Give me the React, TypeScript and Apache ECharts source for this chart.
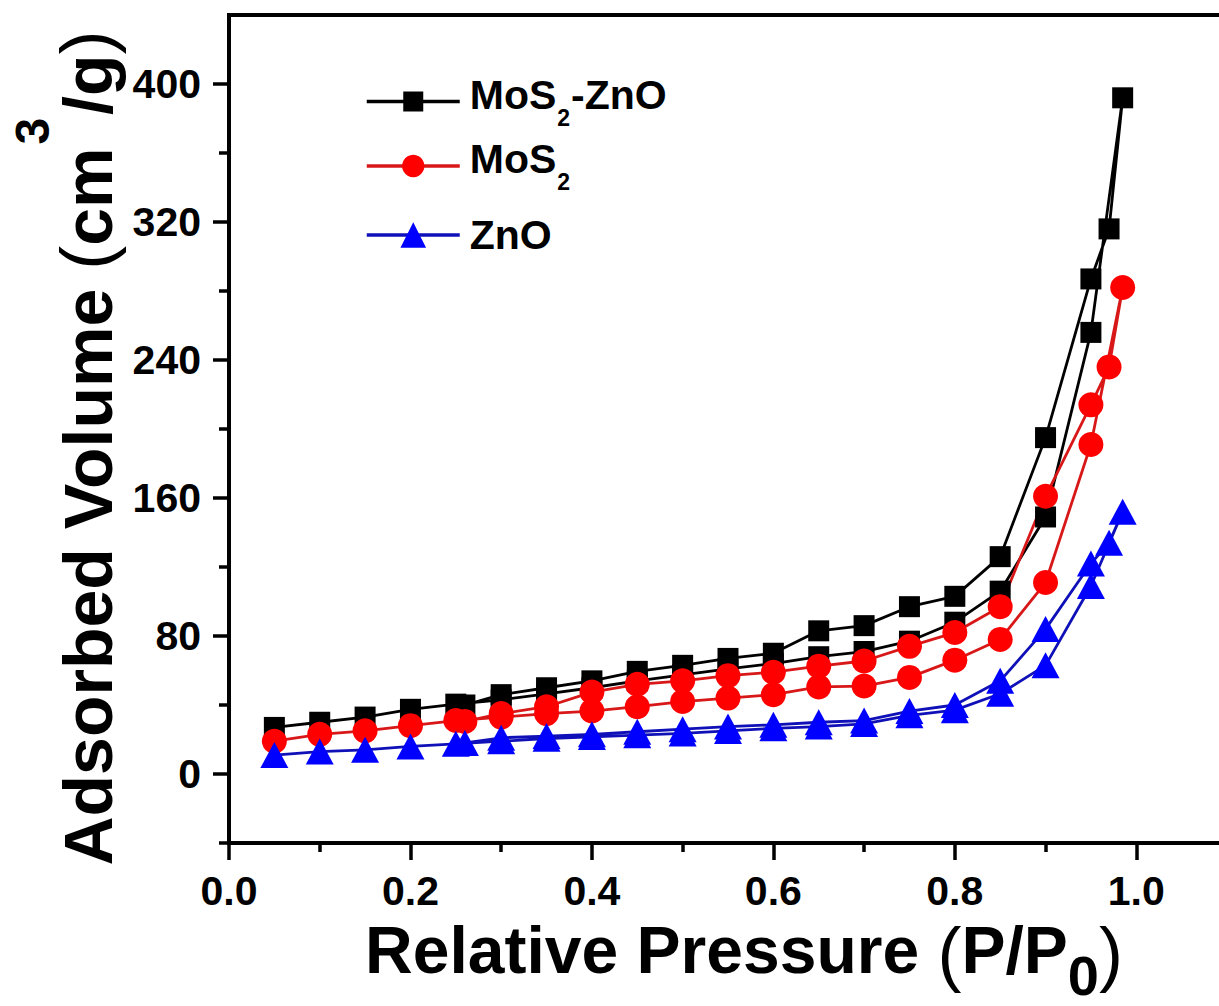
import React, { useEffect, useRef } from "react";
import * as echarts from "echarts";

// Relative pressure points (adsorption branch, then desorption branch)
const pressureAds = [0.05, 0.1, 0.15, 0.2, 0.25, 0.3, 0.35, 0.4, 0.45, 0.5, 0.55, 0.6, 0.65, 0.7, 0.75, 0.8, 0.85, 0.9, 0.95, 0.985];
const pressureDes = [0.97, 0.95, 0.9, 0.85, 0.8, 0.75, 0.7, 0.65, 0.6, 0.55, 0.5, 0.45, 0.4, 0.35, 0.3, 0.26];

// MoS2-ZnO
const mosZnoAds = [27, 30, 33, 37.5, 40.5, 43, 46.5, 50, 54, 57.5, 61, 64, 68, 71, 77, 88, 106, 149, 256, 392];
const mosZnoDes = [316, 287, 195, 126, 103, 97, 86, 83, 70, 67, 63, 59.5, 54, 50, 46, 40];
// MoS2
const mosAds = [19, 23, 25, 28, 31, 33, 35, 36.5, 39, 42, 44, 46, 50.5, 51, 56, 66, 78, 111, 191, 282];
const mosDes = [236, 214, 161, 97, 82, 74, 65.5, 62.5, 59, 57, 54, 52, 47.5, 39, 35, 30.5];
// ZnO
const znoAds = [11, 13, 14, 16, 17.5, 19, 20.5, 21.5, 22.5, 23.5, 25, 26.5, 27.5, 29, 34, 37, 46.5, 63, 109, 152];
const znoDes = [134, 122, 84, 54, 40, 36.5, 31, 30, 28.5, 27.5, 26, 24.5, 23, 22, 21, 18];

const seriesNames = ["MoS2-ZnO", "MoS2", "ZnO"];

const xMajorTicks = [0, 0.2, 0.4, 0.6, 0.8, 1.0];
const xMinorTicks = [0.1, 0.3, 0.5, 0.7, 0.9];
const yMajorTicks = [0, 80, 160, 240, 320, 400];
const yMinorTicks = [-40, 40, 120, 200, 280, 360];

const FONT = "'Liberation Sans', Arial, Helvetica, sans-serif";

export default function App() {
  const ref = useRef<HTMLDivElement>(null);

  useEffect(() => {
    const chart = echarts.init(ref.current as HTMLDivElement, null, { renderer: "svg" });

    const pairs = (xs: number[], ys: number[]) => xs.map((x, i) => [x, ys[i]]);

    const mkSeries = (
      name: string,
      ads: number[],
      des: number[],
      symbol: string,
      size: number | number[],
      color: string,
      lineColor: string
    ) => ({
      name,
      type: "line",
      xAxisIndex: 0,
      yAxisIndex: 0,
      data: [...pairs(pressureAds, ads), ...pairs(pressureDes, des)],
      symbol,
      symbolSize: size,
      showSymbol: true,
      showAllSymbol: true,
      itemStyle: { color, borderWidth: 0 },
      lineStyle: { color: lineColor, width: 2.8 },
      emphasis: { disabled: true },
    });

    const legendRich = {
      b: {
        fontSize: 41,
        fontWeight: "bold",
        fontFamily: FONT,
        color: "#000",
        lineHeight: 41,
        padding: [0, 0, 14, 0],
      },
      b0: {
        fontSize: 41,
        fontWeight: "bold",
        fontFamily: FONT,
        color: "#000",
        lineHeight: 41,
        padding: [0, 0, 14, 5],
      },
      s: {
        fontSize: 23,
        fontWeight: "bold",
        fontFamily: FONT,
        color: "#000",
        lineHeight: 23,
        padding: [32, 1, 0, 1],
      },
      z: {
        fontSize: 41,
        fontWeight: "bold",
        fontFamily: FONT,
        color: "#000",
        lineHeight: 41,
        padding: [0, 0, 0, 5],
      },
    };

    const legendFormatter = (name: string) => {
      if (name === "MoS2-ZnO") return "{b0|MoS}{s|2}{b|-ZnO}";
      if (name === "MoS2") return "{b0|MoS}{s|2}";
      return "{z|ZnO}";
    };

    const mkLegend = (name: string, top: number, itemHeight: number, color: string) => ({
      data: [name],
      left: 365,
      top,
      padding: 0,
      orient: "horizontal",
      itemWidth: 93,
      itemHeight,
      selectedMode: false,
      formatter: legendFormatter,
      lineStyle: { width: 3.5, color },
      textStyle: { rich: legendRich },
    });

    const labelStyle = {
      fontSize: 41,
      fontWeight: "bold",
      fontFamily: FONT,
      color: "#000",
    };

    const t = { fontSize: 66, fontWeight: "bold", fontFamily: FONT, fill: "#000" };
    const ty = { fontSize: 68, fontWeight: "bold", fontFamily: FONT, fill: "#000" };
    const pn = { fontSize: 72, fontWeight: "normal", fontFamily: FONT, fill: "#000" };

    const gridRect = { left: 229, top: 15, right: 13, bottom: 163, containLabel: false };

    const option = {
      animation: false,
      backgroundColor: "#ffffff",
      grid: [
        { ...gridRect, show: true, borderColor: "#000", borderWidth: 4 },
        { ...gridRect, show: false },
      ],
      xAxis: [
        {
          type: "value",
          gridIndex: 0,
          min: 0,
          max: 1.1,
          position: "bottom",
          axisLine: { show: true, onZero: false, lineStyle: { color: "#000", width: 4 } },
          axisTick: {
            show: true,
            inside: false,
            length: 17,
            customValues: xMajorTicks,
            lineStyle: { color: "#000", width: 3.5 },
          },
          axisLabel: {
            show: true,
            customValues: xMajorTicks,
            margin: 27,
            formatter: (v: number) => v.toFixed(1),
            ...labelStyle,
          },
          splitLine: { show: false },
        },
        {
          type: "value",
          gridIndex: 1,
          min: 0,
          max: 1.1,
          position: "bottom",
          axisLine: { show: false, onZero: false },
          axisTick: {
            show: true,
            inside: false,
            length: 9,
            customValues: xMinorTicks,
            lineStyle: { color: "#000", width: 3.5 },
          },
          axisLabel: { show: false },
          splitLine: { show: false },
        },
      ],
      yAxis: [
        {
          type: "value",
          gridIndex: 0,
          min: -40,
          max: 440,
          position: "left",
          axisLine: { show: true, onZero: false, lineStyle: { color: "#000", width: 4 } },
          axisTick: {
            show: true,
            inside: false,
            length: 16,
            customValues: yMajorTicks,
            lineStyle: { color: "#000", width: 3.5 },
          },
          axisLabel: {
            show: true,
            customValues: yMajorTicks,
            margin: 28,
            ...labelStyle,
          },
          splitLine: { show: false },
        },
        {
          type: "value",
          gridIndex: 1,
          min: -40,
          max: 440,
          position: "left",
          axisLine: { show: false, onZero: false },
          axisTick: {
            show: true,
            inside: false,
            length: 10,
            customValues: yMinorTicks,
            lineStyle: { color: "#000", width: 3.5 },
          },
          axisLabel: { show: false },
          splitLine: { show: false },
        },
      ],
      legend: [
        mkLegend(seriesNames[0], 74, 25, "#000000"),
        mkLegend(seriesNames[1], 138.5, 28, "#d81818"),
        mkLegend(seriesNames[2], 214.5, 32, "#1010b8"),
      ],
      series: [
        mkSeries(seriesNames[0], mosZnoAds, mosZnoDes, "rect", 21, "#000000", "#000000"),
        mkSeries(seriesNames[1], mosAds, mosDes, "circle", 25, "#ff0000", "#d81818"),
        mkSeries(seriesNames[2], znoAds, znoDes, "triangle", [28, 26], "#0000ff", "#1010b8"),
      ],
      graphic: [
        {
          type: "text",
          x: 744,
          y: 960,
          silent: true,
          style: {
            text: "{t|Relative Pressure }{p|(}{t|P/P}{s|0}{p|)}",
            align: "center",
            verticalAlign: "middle",
            rich: {
              t: { ...t, lineHeight: 66, padding: [0, 0, 21, 0] },
              p: { ...pn, lineHeight: 72, padding: [0, 0, 15, 0] },
              s: { ...t, fontSize: 56, lineHeight: 56, padding: [31, 0, 0, 0] },
            },
          },
        },
        {
          type: "text",
          x: 65.4,
          y: 448,
          rotation: Math.PI / 2,
          silent: true,
          style: {
            text: "{t|Adsorbed Volume }{p|(}{t|cm}{u|3}{t|/g}{p|)}",
            align: "center",
            verticalAlign: "middle",
            rich: {
              t: { ...ty, lineHeight: 68, padding: [45, 0, 0, 0] },
              p: { ...pn, lineHeight: 72, padding: [41, 0, 0, 0] },
              u: { ...ty, fontSize: 48, lineHeight: 48, padding: [0, 3, 65, 3] },
            },
          },
        },
      ],
    };

    chart.setOption(option as any);
    return () => {
      chart.dispose();
    };
  }, []);

  return (
    <div
      style={{
        position: "fixed",
        left: 0,
        top: 0,
        width: 1219,
        height: 1006,
        overflow: "hidden",
        background: "#fff",
      }}
    >
      <div ref={ref} style={{ width: 1240, height: 1006 }} />
    </div>
  );
}
